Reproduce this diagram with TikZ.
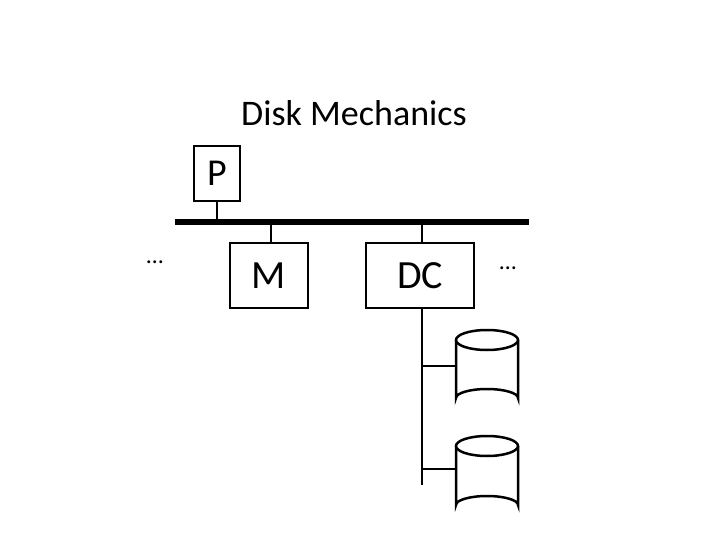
\documentclass[tikz,border=0pt]{standalone}
\usepackage{fontspec}
\setmainfont{Carlito}
\begin{document}
\begin{tikzpicture}[x=1pt,y=-1pt,
  box/.style={draw,line width=2pt,inner sep=0pt},
  wire/.style={line width=2.2pt},
  cyl/.style={draw,line width=2.5pt,fill=white}]
\useasboundingbox (0,0) rectangle (720,540);
\node (title) at (354,113) {\fontsize{36}{40}\selectfont Disk Mechanics};
\node[box,minimum width=46,minimum height=55] (P) at (217,173.5) {\fontsize{38}{40}\selectfont P};
\node[box,minimum width=78,minimum height=65] (M) at (269,275.5) {\fontsize{40}{44}\selectfont M};
\node[box,minimum width=108,minimum height=65] (DC) at (420,275.5) {\fontsize{40}{44}\selectfont DC};
\coordinate (bl) at (175,222); \coordinate (br) at (529,222);
\draw[line width=6pt] (bl) -- (br);
\draw[wire] (P.south) -- (P.south |- bl);
\draw[wire] (271,222) -- (M.north -| 271,0);
\draw[wire] (422,222) -- (DC.north -| 422,0);
\coordinate (vb) at (422,485);
\draw[wire] (DC.south -| 422,0) -- (vb);
\node (d1) at (155,262) {\fontsize{24}{24}\selectfont …};
\node (d2) at (508,268) {\fontsize{24}{24}\selectfont …};
% cylinders
\foreach \n/\t/\b/\y in {c1/340/398/366, c2/446/505/469}{
  \draw[cyl] (456,\t) -- (456,\b) arc[start angle=180,end angle=360,x radius=31,y radius=9] -- (518,\t);
  \draw[cyl] (487,\t) ellipse[x radius=31,y radius=10];
  \coordinate (\n) at (456,\y);
  \draw[wire] (422,\y) -- (\n);
}
\end{tikzpicture}
\end{document}
